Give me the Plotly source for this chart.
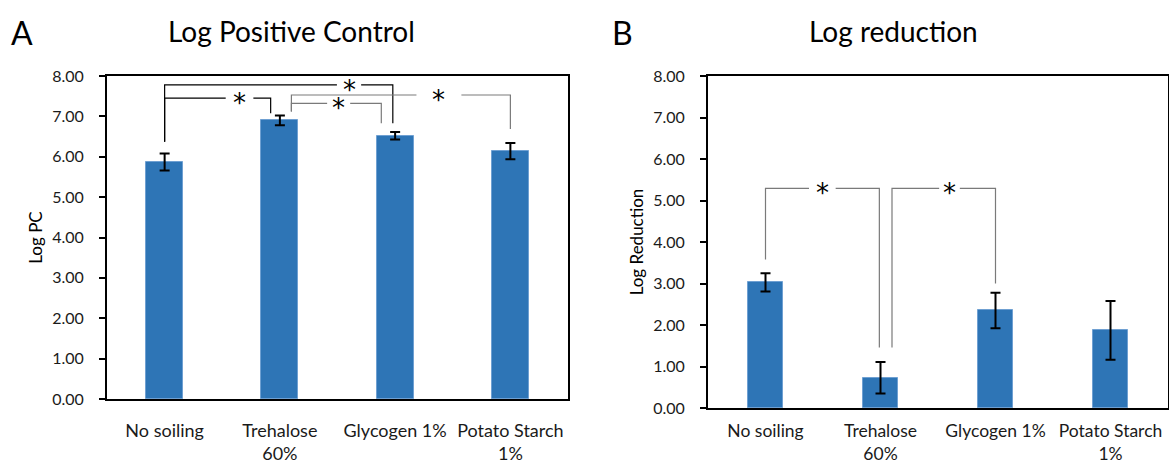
import plotly.graph_objects as go

# Treatment groups and measured values
categories = ["No soiling", "Trehalose<br>60%", "Glycogen 1%", "Potato Starch<br>1%"]
y_ticks = [0, 1, 2, 3, 4, 5, 6, 7, 8]
y_tick_labels = ["0.00", "1.00", "2.00", "3.00", "4.00", "5.00", "6.00", "7.00", "8.00"]

log_pc = [5.87, 6.90, 6.52, 6.14]
log_pc_err = [0.21, 0.12, 0.09, 0.20]

log_red = [3.03, 0.73, 2.35, 1.87]
log_red_err = [0.22, 0.38, 0.43, 0.71]

# Significance brackets: left x, right x, bar height, left leg end, right leg end,
# star centre, half gap around the star, line colour
brackets_pc = [
    (0.00, 1.98, 7.78, 6.37, 6.83, 1.60, 0.105, "#000000"),
    (0.00, 0.92, 7.45, 6.37, 7.08, 0.65, 0.12, "#000000"),
    (1.10, 1.88, 7.32, 7.12, 6.83, 1.51, 0.10, "#7a7a7a"),
    (1.10, 3.00, 7.53, 7.12, 6.69, 2.38, 0.195, "#7a7a7a"),
]
brackets_red = [
    (0.00, 0.99, 5.29, 3.58, 1.46, 0.494, 0.116, "#7a7a7a"),
    (1.10, 2.00, 5.29, 1.46, 3.00, 1.60, 0.09, "#7a7a7a"),
]

BAR_COLOR = "#2E75B6"
FONT = "Lato"
W, H = 1169, 465

fig = go.Figure()

x_idx = list(range(len(categories)))

fig.add_trace(go.Bar(
    x=x_idx, y=log_pc, width=0.32, xaxis="x", yaxis="y",
    marker=dict(color=BAR_COLOR, line=dict(color="#6FA0D2", width=1)),
    error_y=dict(type="data", array=log_pc_err, color="#000000", thickness=2, width=5),
    showlegend=False, hoverinfo="skip",
))
fig.add_trace(go.Bar(
    x=x_idx, y=log_red, width=0.30, xaxis="x2", yaxis="y2",
    marker=dict(color=BAR_COLOR, line=dict(color="#6FA0D2", width=1)),
    error_y=dict(type="data", array=log_red_err, color="#000000", thickness=2, width=5),
    showlegend=False, hoverinfo="skip",
))

annotations = []


def add_brackets(brackets, xa, ya):
    for xl, xr, ytop, yl, yr, xs, gap, col in brackets:
        xs_line = [xl, xl, xs - gap, None, xs + gap, xr, xr]
        ys_line = [yl, ytop, ytop, None, ytop, ytop, yr]
        fig.add_trace(go.Scatter(
            x=xs_line, y=ys_line, mode="lines", xaxis=xa, yaxis=ya,
            line=dict(color=col, width=1.2), showlegend=False, hoverinfo="skip",
        ))
        annotations.append(dict(
            x=xs, y=ytop, xref=xa, yref=ya, text="*", showarrow=False,
            font=dict(family="DejaVu Sans", size=26, color="#000000"),
            xanchor="center", yanchor="middle", yshift=-5,
        ))


add_brackets(brackets_pc, "x", "y")
add_brackets(brackets_red, "x2", "y2")

axis_common = dict(
    showgrid=False, zeroline=False, showline=True, linecolor="#000000",
    linewidth=2, mirror=True, automargin=False,
)
xaxis_common = dict(
    axis_common, range=[-0.5, 3.5], tickvals=x_idx, ticktext=categories, ticks="",
)
yaxis_common = dict(
    axis_common, range=[0, 8], tickvals=y_ticks, ticktext=y_tick_labels,
    ticks="outside", ticklen=6, tickcolor="#000000", tickwidth=1.5,
    tickfont=dict(family=FONT, size=16, color="#1a1a1a"), ticklabelstandoff=12,
)

fig.update_layout(
    template="none",
    width=W, height=H, margin=dict(l=0, r=0, t=0, b=0),
    paper_bgcolor="white", plot_bgcolor="white",
    bargap=0,
    xaxis=dict(xaxis_common, domain=[107 / W, 568 / W], anchor="y", ticklabelstandoff=14,
               tickfont=dict(family=FONT, size=18, color="#1a1a1a")),
    yaxis=dict(yaxis_common, domain=[(H - 399) / H, (H - 76) / H], anchor="x",
               title=dict(text="Log PC", font=dict(family=FONT, size=17, color="#000000"),
                          standoff=5)),
    xaxis2=dict(xaxis_common, domain=[708 / W, 1168 / W], anchor="y2", ticklabelstandoff=6,
                tickfont=dict(family=FONT, size=17.5, color="#1a1a1a")),
    yaxis2=dict(yaxis_common, domain=[(H - 408) / H, (H - 76) / H], anchor="x2",
                title=dict(text="Log Reduction", font=dict(family=FONT, size=17, color="#000000"),
                           standoff=5)),
)

# Panel letters and titles
annotations += [
    dict(x=9 / W, y=1 - 32 / H, xref="paper", yref="paper", text="A", showarrow=False,
         xanchor="left", yanchor="middle", font=dict(family=FONT, size=32, color="#000000")),
    dict(x=291 / W, y=1 - 31 / H, xref="paper", yref="paper", text="Log Positive Control",
         showarrow=False, xanchor="center", yanchor="middle",
         font=dict(family=FONT, size=28, color="#000000")),
    dict(x=610 / W, y=1 - 32 / H, xref="paper", yref="paper", text="B", showarrow=False,
         xanchor="left", yanchor="middle", font=dict(family=FONT, size=32, color="#000000")),
    dict(x=893 / W, y=1 - 31 / H, xref="paper", yref="paper", text="Log reduction",
         showarrow=False, xanchor="center", yanchor="middle",
         font=dict(family=FONT, size=28, color="#000000")),
]
fig.update_layout(annotations=annotations)

fig.write_html("out.html")
